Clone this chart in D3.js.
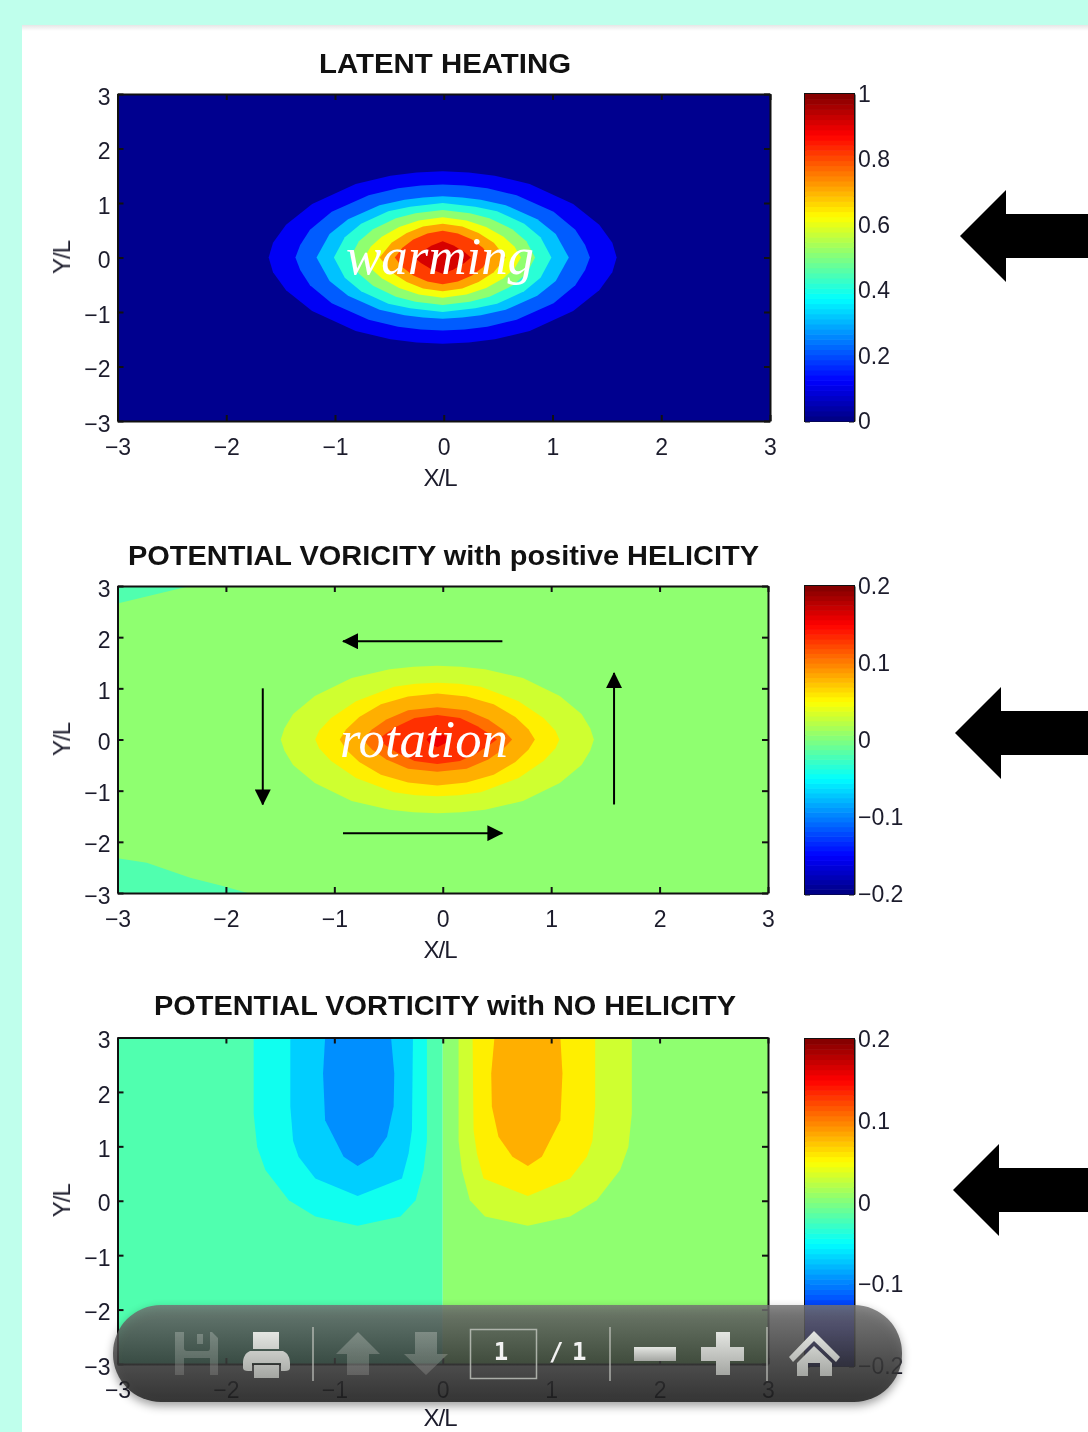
<!DOCTYPE html>
<html>
<head>
<meta charset="utf-8">
<script src="https://cdn.jsdelivr.net/npm/d3@7"></script>
<style>
    html, body { margin: 0; padding: 0; background: #bfffec; }
    svg { display: block; }
    text { font-family: "Liberation Sans", Arial, sans-serif; fill: #1c1c2c; }
    .axis text { font-size: 23px; }
    .axis path, .axis line { stroke: #111; stroke-width: 2; }
    .soft { filter: blur(0.5px); }
    .title { font-weight: bold; font-size: 27px; fill: #111; }
    .note { font-family: "Liberation Serif", "Times New Roman", serif; font-style: italic; font-size: 52px; fill: #fff; filter: blur(0.3px); }
</style>
</head>
<body>
<div id="chart"></div>
<script>
// Tick labels
const xTicks = [-3, -2, -1, 0, 1, 2, 3];
const yTicks = [-3, -2, -1, 0, 1, 2, 3];
const heatBarTicks = [0, 0.2, 0.4, 0.6, 0.8, 1];
const vortBarTicks = [-0.2, -0.1, 0, 0.1, 0.2];

// LATENT HEATING: contour level and top right quarter of each contour, in X/L, Y/L
const heatLevels = [0.1, 0.2, 0.3, 0.4, 0.5, 0.6, 0.7, 0.8, 0.9];
const heatQuarters = [
    [[0, 1.584], [0.24, 1.56], [0.48, 1.5], [0.8, 1.35], [1.2, 0.98], [1.44, 0.6], [1.56, 0.27], [1.6, 0]],
    [[0, 1.34], [0.2, 1.32], [0.41, 1.27], [0.68, 1.14], [1.02, 0.84], [1.22, 0.51], [1.31, 0.23], [1.354, 0]],
    [[0, 1.125], [0.18, 1.1], [0.35, 1.06], [0.58, 0.96], [0.87, 0.7], [1.04, 0.43], [1.16, 0]],
    [[0, 1], [0.3, 0.93], [0.5, 0.85], [0.75, 0.62], [0.9, 0.37], [1, 0]],
    [[0, 0.87], [0.25, 0.81], [0.43, 0.72], [0.64, 0.52], [0.77, 0.3], [0.85, 0]],
    [[0, 0.74], [0.22, 0.68], [0.4, 0.56], [0.56, 0.38], [0.66, 0.2], [0.72, 0]],
    [[0, 0.62], [0.18, 0.57], [0.33, 0.45], [0.47, 0.27], [0.58, 0]],
    [[0, 0.49], [0.14, 0.44], [0.27, 0.33], [0.37, 0.18], [0.44, 0]],
    [[0, 0.3], [0.1, 0.22], [0.2, 0.1], [0.26, 0]]
];

// POTENTIAL VORTICITY with positive helicity
const rotLevels = [0.025, 0.05, 0.075, 0.1, 0.125, 0.15];
const rotQuarters = [
    [[0, 1.44], [0.22, 1.42], [0.44, 1.375], [0.79, 1.2], [1.13, 0.85], [1.33, 0.5], [1.41, 0.22], [1.444, 0]],
    [[0, 1.11], [0.2, 1.09], [0.4, 1.03], [0.75, 0.75], [0.98, 0.42], [1.09, 0.17], [1.126, 0]],
    [[0, 0.9], [0.27, 0.84], [0.52, 0.69], [0.72, 0.44], [0.84, 0.2], [0.9, 0]],
    [[0, 0.63], [0.27, 0.57], [0.47, 0.39], [0.6, 0.2], [0.69, 0]],
    [[0, 0.48], [0.21, 0.42], [0.37, 0.26], [0.47, 0.12], [0.55, 0]],
    [[0, 0.15], [0.07, 0.08], [0.1, 0]]
];
const rotCornerTop = [[-3, 2.66], [-2.33, 3], [-3, 3]];
const rotCornerBottom = [[-3, -2.32], [-2.73, -2.41], [-2.33, -2.7], [-2.02, -2.87], [-1.8, -3], [-3, -3]];
const rotArrows = [
    [[0.55, 1.92], [-0.92, 1.92]],
    [[-1.66, 1.0], [-1.66, -1.27]],
    [[-0.92, -1.83], [0.55, -1.83]],
    [[1.58, -1.27], [1.58, 1.3]]
];

// POTENTIAL VORTICITY with no helicity, left half; right half is the same with the sign flipped
const flatLevels = [0.05, 0.075, 0.1];
const flatContours = [
    [[-1.744, 3], [-1.744, 1.6], [-1.712, 0.99], [-1.636, 0.564], [-1.42, 0.01], [-1.175, -0.29], [-0.785, -0.46], [-0.39, -0.29], [-0.25, 0.01], [-0.177, 0.564], [-0.146, 1.1], [-0.146, 3]],
    [[-1.406, 3], [-1.406, 1.73], [-1.38, 1.1], [-1.33, 0.81], [-1.175, 0.41], [-0.785, 0.086], [-0.376, 0.41], [-0.315, 0.87], [-0.284, 1.3], [-0.275, 3]],
    [[-1.085, 3], [-1.104, 2.34], [-1.085, 1.48], [-0.914, 0.81], [-0.785, 0.638], [-0.643, 0.81], [-0.514, 1.176], [-0.453, 1.73], [-0.447, 2.34], [-0.477, 3]]
];

const titles = ["LATENT HEATING", "POTENTIAL VORICITY with positive HELICITY", "POTENTIAL VORTICITY with NO HELICITY"];

const width = 1088, height = 1432;
const svg = d3.select("#chart").append("svg").attr("width", width).attr("height", height);

// page
const defs = svg.append("defs");
const pageEdge = defs.append("linearGradient").attr("id", "pageEdge").attr("x2", 0).attr("y2", 1);
pageEdge.append("stop").attr("offset", 0).attr("stop-color", "#e6e6e6");
pageEdge.append("stop").attr("offset", 1).attr("stop-color", "#fff");
svg.append("rect").attr("x", 22).attr("y", 25).attr("width", width - 22).attr("height", height - 25).attr("fill", "#fff");
svg.append("rect").attr("x", 22).attr("y", 25).attr("width", width - 22).attr("height", 6).attr("fill", "url(#pageEdge)");

function jet(t) {
    const c = v => Math.round(255 * Math.max(0, Math.min(1, v)));
    return d3.rgb(c(Math.min(4 * t - 1.5, -4 * t + 4.5)), c(Math.min(4 * t - 0.5, -4 * t + 3.5)), c(Math.min(4 * t + 0.5, -4 * t + 2.5)));
}

// full contour from its top right quarter
function fullRing(q, cx) {
    const tr = q.map(p => [cx + p[0], p[1]]);
    const br = q.slice().reverse().slice(1).map(p => [cx + p[0], -p[1]]);
    const bl = q.slice(1).map(p => [cx - p[0], -p[1]]);
    const tl = q.slice().reverse().slice(1, -1).map(p => [cx - p[0], p[1]]);
    return tr.concat(br, bl, tl);
}

function drawPanel(p, i) {
    const x = d3.scaleLinear().domain([-3, 3]).range([p.left, p.right]);
    const y = d3.scaleLinear().domain([-3, 3]).range([p.bottom, p.top]);
    const shade = d3.scaleLinear().domain(p.range).range([0, 1]);
    const fill = v => jet(shade(v) + 1 / 64);
    const line = d3.line().x(d => x(d[0])).y(d => y(d[1]));

    defs.append("clipPath").attr("id", "clip" + i).append("rect")
        .attr("x", p.left).attr("y", p.top)
        .attr("width", p.right - p.left).attr("height", p.bottom - p.top);
    const plot = svg.append("g").attr("clip-path", "url(#clip" + i + ")").style("filter", "blur(0.5px)");
    p.draw(plot, x, y, fill, line);

    // axes, ticks point inward like MATLAB
    const soft = svg.append("g").attr("class", "soft");
    const fmt = d3.format("d");
    soft.append("g").attr("class", "axis").attr("transform", `translate(0,${p.bottom})`)
        .call(d3.axisBottom(x).tickValues(xTicks).tickFormat(d => fmt(d)).tickSizeInner(-6).tickSizeOuter(0).tickPadding(17.5))
        .selectAll("text").attr("dy", "0.71em");
    soft.append("g").attr("class", "axis").attr("transform", `translate(${p.left},0)`)
        .call(d3.axisLeft(y).tickValues(yTicks).tickFormat(d => fmt(d)).tickSizeInner(-6).tickSizeOuter(0).tickPadding(7))
        .selectAll("text").attr("dy", "0.44em");
    soft.append("g").attr("class", "axis").attr("transform", `translate(0,${p.top})`)
        .call(d3.axisTop(x).tickValues(xTicks).tickFormat("").tickSizeInner(-6).tickSizeOuter(0));
    soft.append("g").attr("class", "axis").attr("transform", `translate(${p.right},0)`)
        .call(d3.axisRight(y).tickValues(yTicks).tickFormat("").tickSizeInner(-6).tickSizeOuter(0));

    soft.append("text").attr("class", "title").attr("x", p.titleX).attr("y", p.titleY)
        .attr("textLength", p.titleW).attr("lengthAdjust", "spacingAndGlyphs").text(titles[i]);
    soft.append("text").attr("x", 440).attr("y", Math.min(p.bottom + 65, 1426)).attr("text-anchor", "middle")
        .attr("font-size", 24).attr("letter-spacing", -1).text("X/L");
    soft.append("text").attr("transform", `translate(70,${(p.top + p.bottom) / 2}) rotate(-90)`)
        .attr("text-anchor", "middle").attr("font-size", 24).attr("letter-spacing", -1).text("Y/L");

    // colour bar
    const bar = d3.scaleLinear().domain(p.range).range([p.barBottom, p.barTop]);
    const steps = d3.range(64);
    const stepV = (p.range[1] - p.range[0]) / 64;
    svg.append("g").selectAll("rect").data(steps).enter().append("rect")
        .attr("x", 805).attr("width", 49)
        .attr("y", d => bar(p.range[0] + (d + 1) * stepV))
        .attr("height", d => bar(p.range[0] + d * stepV) - bar(p.range[0] + (d + 1) * stepV) + 0.6)
        .attr("fill", d => jet((d + 0.5) / 64));
    const barAxis = soft.append("g").attr("class", "axis").attr("transform", "translate(854,0)")
        .call(d3.axisRight(bar).tickValues(p.barTicks).tickFormat(d => d3.format("~g")(d).replace("-", "−")).tickSizeInner(-5).tickSizeOuter(0).tickPadding(4));
    barAxis.selectAll("text").attr("dy", "0.33em");
    soft.append("g").attr("class", "axis").attr("transform", "translate(805,0)")
        .call(d3.axisLeft(bar).tickValues(p.barTicks).tickFormat("").tickSizeInner(-5).tickSizeOuter(0));
    soft.append("rect").attr("x", 805).attr("y", p.barTop).attr("width", 49).attr("height", p.barBottom - p.barTop)
        .attr("fill", "none").attr("stroke", "#111").attr("stroke-width", 2);
}

const panels = [
    {
        left: 117.5, right: 770, top: 94, bottom: 421, range: [0, 1], barTop: 94, barBottom: 421, barTicks: heatBarTicks,
        titleX: 319, titleY: 73, titleW: 252,
        draw(g, x, y, fill, line) {
            g.append("rect").attr("x", x(-3)).attr("y", y(3)).attr("width", x(3) - x(-3)).attr("height", y(-3) - y(3)).attr("fill", fill(0));
            g.selectAll("path").data(heatQuarters).enter().append("path")
                .attr("d", q => line(fullRing(q, -0.01)) + "Z")
                .attr("fill", (q, k) => fill(heatLevels[k]));
        }
    },
    {
        left: 117.5, right: 768, top: 586, bottom: 893, range: [-0.2, 0.2], barTop: 586, barBottom: 894, barTicks: vortBarTicks,
        titleX: 128, titleY: 565, titleW: 631,
        draw(g, x, y, fill, line) {
            g.append("rect").attr("x", x(-3)).attr("y", y(3)).attr("width", x(3) - x(-3)).attr("height", y(-3) - y(3)).attr("fill", fill(0));
            g.selectAll("path.corner").data([rotCornerTop, rotCornerBottom]).enter().append("path").attr("class", "corner")
                .attr("d", d => line(d) + "Z").attr("fill", fill(-0.025));
            g.selectAll("path.ring").data(rotQuarters).enter().append("path").attr("class", "ring")
                .attr("d", q => line(fullRing(q, -0.05)) + "Z")
                .attr("fill", (q, k) => fill(rotLevels[k]));
        }
    },
    {
        left: 117.5, right: 768, top: 1037.5, bottom: 1364, range: [-0.2, 0.2], barTop: 1039, barBottom: 1366, barTicks: vortBarTicks,
        titleX: 154, titleY: 1015, titleW: 582,
        draw(g, x, y, fill, line) {
            g.append("rect").attr("x", x(-3)).attr("y", y(3)).attr("width", x(0) - x(-3)).attr("height", y(-3) - y(3)).attr("fill", fill(-0.025));
            g.append("rect").attr("x", x(0)).attr("y", y(3)).attr("width", x(3) - x(0)).attr("height", y(-3) - y(3)).attr("fill", fill(0));
            g.selectAll("path.neg").data(flatContours).enter().append("path").attr("class", "neg")
                .attr("d", d => line(d) + "Z").attr("fill", (d, k) => fill(-flatLevels[k]));
            g.selectAll("path.pos").data(flatContours).enter().append("path").attr("class", "pos")
                .attr("d", d => line(d.map(c => [-c[0], c[1]])) + "Z").attr("fill", (d, k) => fill(flatLevels[k] - 0.025));
        }
    }
];
panels.forEach(drawPanel);

// words on top of the contours
svg.append("text").attr("class", "note").attr("x", 346).attr("y", 274).attr("textLength", 188).attr("lengthAdjust", "spacingAndGlyphs").text("warming");
svg.append("text").attr("class", "note").attr("x", 340).attr("y", 757).attr("textLength", 168).attr("lengthAdjust", "spacingAndGlyphs").text("rotation");

// circulation arrows of the middle panel
const midX = d3.scaleLinear().domain([-3, 3]).range([117.5, 768]);
const midY = d3.scaleLinear().domain([-3, 3]).range([893, 586]);
defs.append("marker").attr("id", "head").attr("viewBox", "0 0 16 16").attr("refX", 15).attr("refY", 8)
    .attr("markerWidth", 16).attr("markerHeight", 16).attr("markerUnits", "userSpaceOnUse").attr("orient", "auto")
    .append("path").attr("d", "M0,0L16,8L0,16Z").attr("fill", "#000");
svg.append("g").selectAll("line").data(rotArrows).enter().append("line")
    .attr("x1", d => midX(d[0][0])).attr("y1", d => midY(d[0][1]))
    .attr("x2", d => midX(d[1][0])).attr("y2", d => midY(d[1][1]))
    .attr("stroke", "#000").attr("stroke-width", 2).attr("marker-end", "url(#head)");

// big arrows on the right
const bigArrows = [{ tip: 960, y: 236 }, { tip: 955, y: 733 }, { tip: 953, y: 1190 }];
svg.append("g").selectAll("path").data(bigArrows).enter().append("path")
    .attr("d", d => `M${d.tip},${d.y}L${d.tip + 46},${d.y - 46}V${d.y - 22}H1088V${d.y + 22}H${d.tip + 46}V${d.y + 46}Z`)
    .attr("fill", "#000");

// pdf viewer toolbar across the bottom
const barFill = defs.append("linearGradient").attr("id", "barFill").attr("x2", 0).attr("y2", 1);
barFill.append("stop").attr("offset", 0).attr("stop-color", "#727272");
barFill.append("stop").attr("offset", 0.55).attr("stop-color", "#404040");
barFill.append("stop").attr("offset", 1).attr("stop-color", "#1e1e1e");
const iconFill = defs.append("linearGradient").attr("id", "iconFill").attr("x2", 0).attr("y2", 1);
iconFill.append("stop").attr("offset", 0).attr("stop-color", "#e4e6e2");
iconFill.append("stop").attr("offset", 1).attr("stop-color", "#a4a6a2");

const tool = svg.append("g");
tool.append("rect").attr("x", 113).attr("y", 1305).attr("width", 789).attr("height", 97).attr("rx", 48)
    .attr("fill", "url(#barFill)").attr("fill-opacity", 0.83)
    .style("filter", "drop-shadow(0 4px 5px rgba(0,0,0,0.45))");
tool.selectAll("line.sep").data([313, 610, 767]).enter().append("line").attr("class", "sep")
    .attr("x1", d => d).attr("x2", d => d).attr("y1", 1327).attr("y2", 1381)
    .attr("stroke", "#cfd2cc").attr("stroke-opacity", 0.75).attr("stroke-width", 1.5);

const icons = [
    // save
    { o: 0.28, d: "M175,1332H212L218,1338V1375H175ZM184,1332V1348C184,1350 185,1351 187,1351H208C209,1351 210,1350 210,1348V1332ZM197,1334V1344H203V1334ZM184,1358V1375H210V1358Z" },
    // print
    { o: 1, d: "M253,1332H279V1349H253ZM250,1351H283C288,1353 290,1358 290,1363V1368C290,1370 288,1371 285,1371H281V1363H252V1371H248C245,1371 243,1370 243,1368V1363C243,1358 245,1353 250,1351ZM254,1365H279V1378H254Z" },
    // up, down
    { o: 0.3, d: "M358,1332L380,1354H369V1375H347V1354H336Z" },
    { o: 0.3, d: "M415,1332H437V1354H448L426,1375L404,1354H415Z" },
    // minus, plus
    { o: 1, d: "M634,1347H676V1361H634Z" },
    { o: 1, d: "M716,1332H730V1347H744V1361H730V1375H716V1361H701V1347H716Z" },
    // home
    { o: 1, d: "M814,1331L840,1357L836,1362L814,1341L793,1362L789,1357ZM814,1346L832,1363V1376H820V1363H808V1376H797V1363Z" }
];
tool.selectAll("path.icon").data(icons).enter().append("path").attr("class", "icon")
    .attr("d", d => d.d).attr("fill", "url(#iconFill)").attr("fill-rule", "evenodd").attr("fill-opacity", d => d.o)
    .style("filter", "blur(0.4px)");
tool.append("rect").attr("x", 470.5).attr("y", 1329.5).attr("width", 66).attr("height", 49)
    .attr("fill", "none").attr("stroke", "#c4c8c0").attr("stroke-opacity", 0.8).attr("stroke-width", 1.5);
tool.append("text").attr("x", 501).attr("y", 1360).attr("text-anchor", "middle").attr("font-size", 24).attr("font-weight", "bold")
    .style("font-family", "'DejaVu Sans Mono', monospace").style("fill", "#f2f2f2").text("1");
tool.append("text").attr("x", 549).attr("y", 1360).attr("font-size", 24).attr("font-weight", "bold")
    .style("font-family", "'DejaVu Sans Mono', monospace").style("fill", "#f2f2f2").attr("letter-spacing", -3).text("/ 1");
</script>
</body>
</html>
